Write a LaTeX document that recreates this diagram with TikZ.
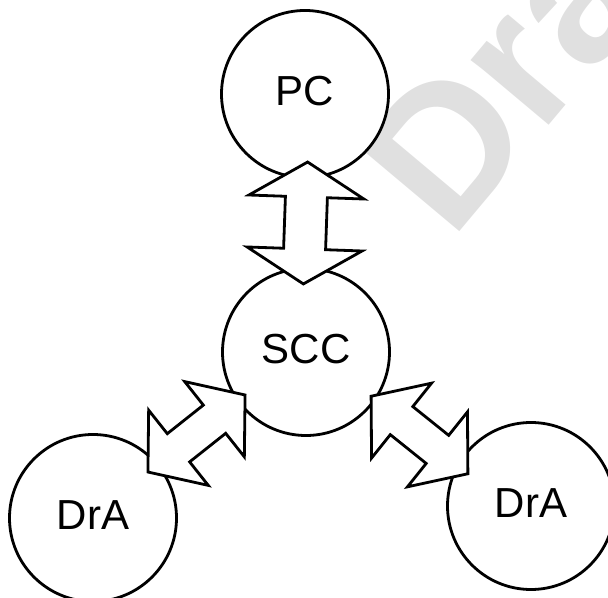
\documentclass[tikz,border=0pt]{standalone}
\usepackage{fontspec}
\setmainfont{Liberation Sans}
\usetikzlibrary{calc}
\definecolor{wmgray}{RGB}{224,224,224}
\tikzset{
  bubble/.style={circle, draw=black, fill=white, line width=2.8bp,
    minimum size=167bp, inner sep=0pt, text depth=6bp,
    font=\fontsize{42bp}{50bp}\selectfont},
  blockarrow/.style={draw=black, fill=white, line width=2.8bp, line join=miter},
  watermark/.style={text=wmgray, inner sep=0pt, anchor=base west, rotate=50,
    font=\fontsize{192bp}{200bp}\selectfont\bfseries},
  % double-headed block arrow centred on the origin, lying along the x axis:
  % #1 total length, #2 head length, #3 head half-width, #4 shaft half-width
  pics/dblarrow/.style n args={4}{code={
    \draw[blockarrow] (#1/2,0) -- (#1/2-#2,#3) -- (#1/2-#2,#4)
      -- (-#1/2+#2,#4) -- (-#1/2+#2,#3) -- (-#1/2,0)
      -- (-#1/2+#2,-#3) -- (-#1/2+#2,-#4) -- (#1/2-#2,-#4)
      -- (#1/2-#2,-#3) -- cycle;
  }}
}
\begin{document}
\begin{tikzpicture}[x=1bp,y=1bp]
\useasboundingbox (0,0) rectangle (608,598);
\clip (0,0) rectangle (608,598);
% background stamp
\node[watermark] (wm) at (451,356) {Dra};
% the four units
\node[bubble] (pc)   at (305,504) {PC};
\node[bubble] (scc)  at (306,246) {SCC};
\node[bubble] (dral) at (93,80)   {DrA};
\node[bubble] (drar) at (531,92)  {DrA};
% two-way links
\pic[rotate=268]   at ($(pc)!0.5!(scc)$)            {dblarrow={122}{35}{57.5}{21}};
\pic[rotate=218.4] at ($(scc)!0.5!(dral)+(-3,1.5)$) {dblarrow={124}{39}{48}{18}};
\pic[rotate=-38.7] at ($(scc)!0.5!(drar)+(1,-6)$)   {dblarrow={124}{39}{48}{18}};
\end{tikzpicture}
\end{document}
